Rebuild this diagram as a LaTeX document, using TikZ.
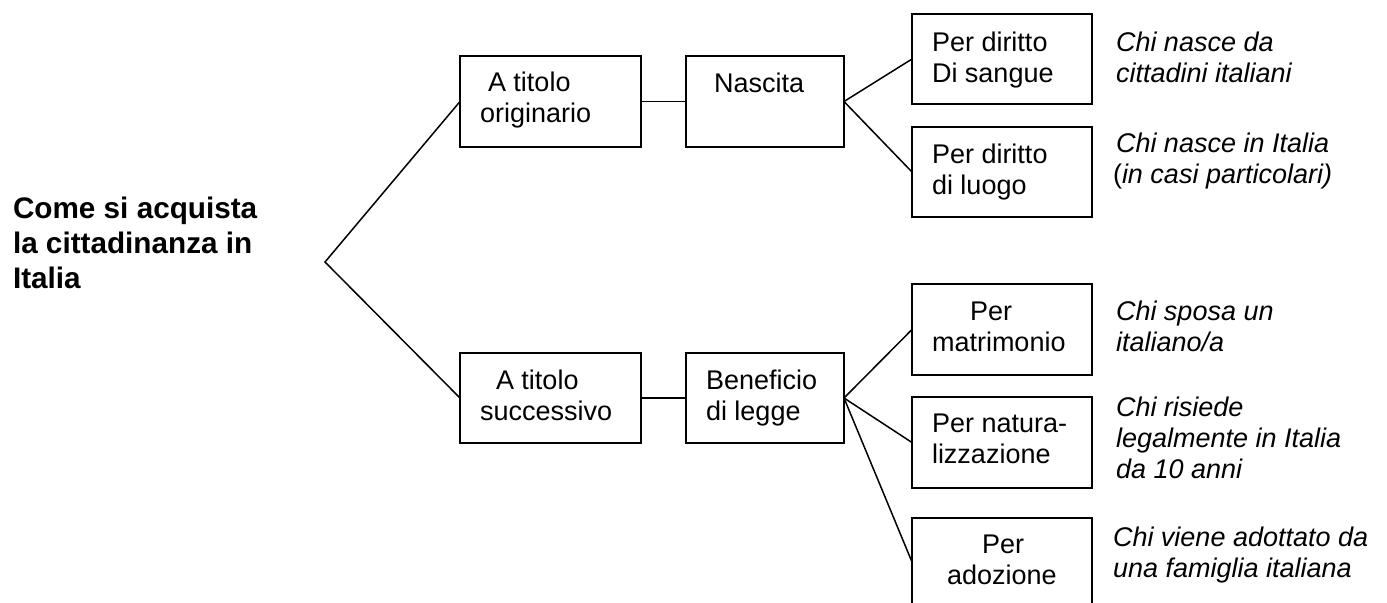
\documentclass[tikz,border=0pt]{standalone}
\usepackage{fontspec}
\setmainfont{Liberation Sans}
\begin{document}
\begin{tikzpicture}[x=0.5pt,y=-0.5pt,
  box/.style={draw, line width=1pt, inner sep=0pt, outer sep=0pt},
  link/.style={line width=0.75pt},
  txt/.style={anchor=base west, inner sep=0pt, outer sep=0pt, align=left,
    font=\fontsize{13.5pt}{15.4pt}\selectfont},
  itxt/.style={txt, font=\fontsize{13.5pt}{15.5pt}\selectfont\itshape},
  ttl/.style={txt, font=\fontsize{14.85pt}{17.5pt}\selectfont\bfseries}]
\clip (0,0) rectangle (1387,602);
% title (anchor = baseline of last line)
\node[ttl] (title) at (13,288) {Come si acquista\\la cittadinanza in\\Italia};
\coordinate (vtx) at (325,262);
% boxes
\node[box, minimum width=90.5pt, minimum height=45.5pt] (orig) at (550.5,101.5) {};
\node[box, minimum width=79pt, minimum height=45.5pt] (nasc) at (765,101.5) {};
\node[box, minimum width=90.5pt, minimum height=45pt] (succ) at (550.5,398) {};
\node[box, minimum width=79pt, minimum height=45pt] (bene) at (765,398) {};
\node[box, minimum width=90pt, minimum height=45pt] (sang) at (1002,59) {};
\node[box, minimum width=90pt, minimum height=45pt] (luogo) at (1002,172) {};
\node[box, minimum width=90pt, minimum height=45.5pt] (matr) at (1002,329.5) {};
\node[box, minimum width=90pt, minimum height=45.5pt] (natu) at (1002,442.5) {};
\node[box, minimum width=90pt, minimum height=44pt] (adoz) at (1002,562) {};
% box texts
\node[txt] (torig) at (480,122) {\hspace{4pt}A titolo\\originario};
\node[txt] (tnasc) at (714,92) {Nascita};
\node[txt] (tsucc) at (480,420) {\hspace{8pt}A titolo\\successivo};
\node[txt] (tbene) at (706,420) {Beneficio\\di legge};
\node[txt] (tsang) at (932,82) {Per diritto\\Di sangue};
\node[txt] (tluogo) at (932,194) {Per diritto\\di luogo};
\node[txt] (tmatr) at (932,351) {\hspace{19pt}Per\\matrimonio};
\node[txt] (tnatu) at (932,463) {Per natura-\\lizzazione};
\node[txt] (tadoz) at (947,584) {\hspace{17.5pt}Per\\adozione};
% italic notes
\node[itxt] (nsang) at (1116,82) {Chi nasce da\\cittadini italiani};
\node[itxt] (nluogo) at (1113,183) {\hspace{1.5pt}Chi nasce in Italia\\{\upshape(}in casi particolari)};
\node[itxt] (nmatr) at (1116,351) {Chi sposa un\\italiano/a};
\node[itxt] (nnatu) at (1116,478) {Chi risiede\\legalmente in Italia\\da 10 anni};
\node[itxt] (nadoz) at (1113,577) {Chi viene adottato da\\una famiglia italiana};
% connectors
\draw[link] (orig.west) -- (vtx) -- (succ.west);
\draw[link] (orig.east) -- (nasc.west);
\draw[link] (succ.east) -- (bene.west);
\draw[link] (nasc.east) -- (sang.west);
\draw[link] (nasc.east) -- (luogo.west);
\draw[link] (bene.east) -- (matr.west);
\draw[link] (bene.east) -- (natu.west);
\draw[link] (bene.east) -- (adoz.west);
\end{tikzpicture}
\end{document}
